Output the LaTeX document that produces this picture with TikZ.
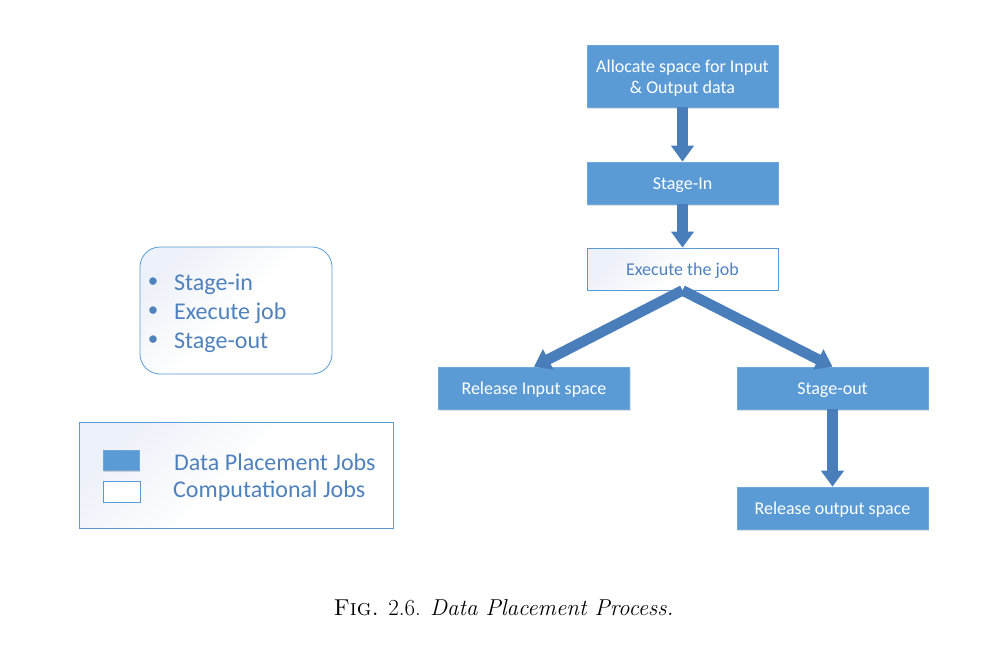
\documentclass[tikz,border=0pt]{standalone}
\usepackage{fontspec}
\newfontfamily\carlito{Carlito}
\usetikzlibrary{arrows.meta,shadows}
\definecolor{dpfill}{HTML}{5B9BD5}
\definecolor{dpborder}{HTML}{6FA8DC}
\definecolor{arrowc}{HTML}{4A7EBB}
\definecolor{txtblue}{HTML}{4F81BD}
\definecolor{gradc}{HTML}{EDF1F9}
\begin{document}
\begin{tikzpicture}[x=1pt,y=-1pt,
  dpbox/.style={draw=dpborder, line width=0.6pt, fill=dpfill, minimum width=191pt, minimum height=42pt,
    inner sep=0pt,
    drop shadow={shadow xshift=1.2pt, shadow yshift=-1.5pt, opacity=0.25}},
  cjbox/.style={draw=dpfill, line width=0.8pt, top color=gradc, bottom color=white, middle color=white, shading angle=45,
    minimum width=191pt, minimum height=42pt, inner sep=0pt},
  boxtxt/.style={text=white, align=center, inner sep=0pt, font=\carlito\fontsize{18}{21}\selectfont},
  cjtxt/.style={boxtxt, text=txtblue},
  flow/.style={line width=10.5pt, draw=arrowc, -{Triangle[width=22pt,length=16pt]}},
  bigtxt/.style={text=txtblue, font=\carlito\fontsize{24}{27}\selectfont, anchor=west, inner sep=0pt},
  dot/.style={text=txtblue, font=\carlito\fontsize{21}{21}\selectfont, inner sep=0pt},
  panel/.style={draw=dpfill, line width=0.8pt, top color=gradc, bottom color=white, middle color=white, shading angle=45},
]
\useasboundingbox (0,0) rectangle (997,653);

% flow nodes
\node[dpbox, minimum height=62pt] (alloc) at (682.5,76) {};
\node[dpbox] (stagein) at (682.5,183) {};
\node[cjbox] (exec) at (682.5,269) {};
\node[dpbox] (rin) at (534,388) {};
\node[dpbox] (sout) at (832.5,388) {};
\node[dpbox] (rout) at (832.5,508) {};

\node[boxtxt] (allocT) at ([yshift=-2.5pt]alloc.center) {Allocate space for Input\\\& Output data};
\node[boxtxt] (stageinT) at ([yshift=-2pt]stagein.center) {Stage-In};
\node[cjtxt] (execT) at ([yshift=-2pt]exec.center) {Execute the job};
\node[boxtxt] (rinT) at ([yshift=-2pt]rin.center) {Release Input space};
\node[boxtxt] (soutT) at ([yshift=-2pt]sout.center) {Stage-out};
\node[boxtxt] (routT) at ([yshift=-2pt]rout.center) {Release output space};

% connectors
\draw[flow] (alloc.south) -- (stagein.north);
\draw[flow] (stagein.south) -- (exec.north);
\draw[flow] (exec.south) -- (rin.north);
\draw[flow] (exec.south) -- (sout.north);
\draw[flow] (sout.south) -- (rout.north);

% stage box
\node[panel, rounded corners=20pt, minimum width=192pt, minimum height=127pt] (stages) at (236,310.5) {};
\node[dot] (b1) at (153,283) {•};
\node[dot] (b2) at (153,312) {•};
\node[dot] (b3) at (153,341) {•};
\node[bigtxt] (t1) at (174,284.5) {Stage-in};
\node[bigtxt] (t2) at (174,313.5) {Execute job};
\node[bigtxt] (t3) at (174,342.5) {Stage-out};

% legend
\node[panel, minimum width=314pt, minimum height=106pt] (legend) at (236,475) {};
\node[fill=dpfill, draw=dpborder, minimum width=36pt, minimum height=20pt, inner sep=0pt,
  drop shadow={shadow xshift=1.2pt, shadow yshift=-1.5pt, opacity=0.3}] (lg1) at (121,460) {};
\node[draw=dpfill, fill=white, line width=0.8pt, minimum width=37pt, minimum height=21pt, inner sep=0pt] (lg2) at (121.5,491.5) {};
\node[bigtxt] (l1) at (174,462.5) {Data Placement Jobs};
\node[bigtxt] (l2) at (173,491.5) {Computational Jobs};

% caption
\node[font=\fontsize{23}{27}\selectfont] (cap) at (503.5,608) {\textsc{Fig.} 2.6. \textit{Data Placement Process.}};
\end{tikzpicture}
\end{document}
